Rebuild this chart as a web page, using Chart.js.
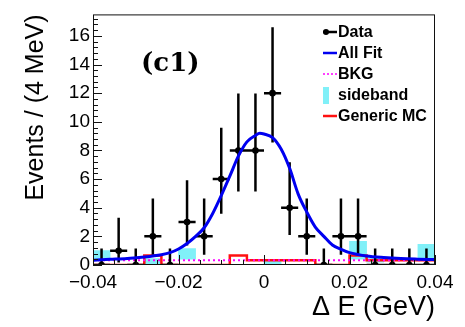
<!DOCTYPE html>
<html>
<head>
<meta charset="utf-8">
<script src="https://cdn.jsdelivr.net/npm/chart.js@4.4.0/dist/chart.umd.min.js"></script>
<style>
  html, body { margin: 0; padding: 0; background: #fff; }
  #wrap { width: 465px; height: 327px; }
</style>
</head>
<body>
<div id="wrap"><canvas id="c" width="465" height="327"></canvas></div>
<script>
// ── Data ───────────────────────────────────────────────────────
const BIN_WIDTH = 0.004;
const BIN_EDGES = [-0.040, -0.036, -0.032, -0.028, -0.024, -0.020, -0.016, -0.012, -0.008, -0.004,
                   0.000, 0.004, 0.008, 0.012, 0.016, 0.020, 0.024, 0.028, 0.032, 0.036, 0.040];
const BIN_CENTERS = [-0.038, -0.034, -0.030, -0.026, -0.022, -0.018, -0.014, -0.010, -0.006, -0.002,
                     0.002, 0.006, 0.010, 0.014, 0.018, 0.022, 0.026, 0.030, 0.034, 0.038];

const DATA_COUNTS   = [0, 1, 0, 2, 0, 3, 2, 6, 8, 8, 12, 4, 2, 0, 2, 2, 0, 0, 0, 0];
const DATA_ERR_LOW  = [0, 0.17, 0, 0.71, 0, 1.37, 0.71, 3.58, 5.14, 5.14, 8.56, 2.09, 0.71, 0, 0.71, 0.71, 0, 0, 0, 0];
const DATA_ERR_HIGH = [1.15, 3.3, 1.15, 4.64, 1.15, 5.92, 4.64, 9.58, 11.98, 11.98, 16.61, 7.17, 4.64, 1.15, 4.64, 4.64, 1.15, 1.15, 1.15, 1.15];

const FIT_X = [-0.040, -0.036, -0.032, -0.028, -0.024, -0.022, -0.020, -0.018, -0.016, -0.014, -0.012, -0.010,
               -0.008, -0.006, -0.004, -0.002, -0.001, 0.000, 0.002, 0.004, 0.006, 0.008, 0.010, 0.012,
               0.014, 0.016, 0.018, 0.020, 0.024, 0.028, 0.032, 0.036, 0.040];
const FIT_Y = [0.34, 0.40, 0.46, 0.56, 0.72, 0.86, 1.12, 1.5, 2.0, 2.6, 3.6, 4.85,
               6.2, 7.6, 8.6, 9.05, 9.2, 9.15, 8.9, 8.1, 6.75, 4.95, 3.7, 2.65,
               2.0, 1.4, 1.1, 0.86, 0.63, 0.52, 0.45, 0.41, 0.38];

const BKG_X = [-0.040, 0.040];
const BKG_Y = [0.33, 0.33];

const GENERIC_MC = [0, 0, 0, 0.67, 0, 0, 0, 0, 0.67, 0.33, 0.33, 0.33, 0.33, 0, 0, 0.67, 0.33, 0.33, 0.33, 0.33];

const SIDEBAND_LOW  = [0.35, null, null, 0.1, null, 0.4, null, null, null, null, 0.05, null, null, null, null, 0.4, 0.2, null, null, 0.35];
const SIDEBAND_HIGH = [1.0, null, null, 0.45, null, 1.15, null, null, null, null, 0.33, null, null, null, null, 1.65, 0.5, null, null, 1.45];

const X_TICKS = [-0.04, -0.02, 0, 0.02, 0.04];
const Y_TICKS = [0, 2, 4, 6, 8, 10, 12, 14, 16];
const LEGEND_LABELS = ['Data', 'All Fit', 'BKG', 'sideband', 'Generic MC'];

// ── Colours ───────────────────────────────────────────────────
const BLUE = '#0000f0';
const RED = '#ff1010';
const MAGENTA = '#ff00ff';
const CYAN = '#80f0f8';
const BLACK = '#000';
const SANS = "'Liberation Sans', Arial, sans-serif";

Chart.defaults.font.family = SANS;
Chart.defaults.color = BLACK;

// build point lists for the library
const dataPoints = BIN_CENTERS.map((c, i) => ({ x: c, y: DATA_COUNTS[i] }));
const errVertical = [];
const errHorizontal = [];
BIN_CENTERS.forEach((c, i) => {
  errVertical.push({ x: c, y: DATA_ERR_LOW[i] }, { x: c, y: DATA_ERR_HIGH[i] }, { x: c, y: null });
  errHorizontal.push({ x: c - BIN_WIDTH / 2, y: DATA_COUNTS[i] }, { x: c + BIN_WIDTH / 2, y: DATA_COUNTS[i] },
                     { x: c + BIN_WIDTH / 2, y: null });
});
const fitPoints = FIT_X.map((x, i) => ({ x, y: FIT_Y[i] }));
const bkgPoints = BKG_X.map((x, i) => ({ x, y: BKG_Y[i] }));
const mcPoints = BIN_EDGES.map((x, i) => ({ x, y: GENERIC_MC[Math.min(i, GENERIC_MC.length - 1)] }));
const sidebandBars = BIN_CENTERS.map((c, i) => ({
  x: c,
  y: SIDEBAND_LOW[i] === null ? null : [SIDEBAND_LOW[i], SIDEBAND_HIGH[i]],
}));

// ── Frame, inside ticks, legend and panel label ───────────────
const rootStyle = {
  id: 'rootStyle',
  afterDraw(chart) {
    const { ctx, chartArea: a, scales: { x, y } } = chart;
    ctx.save();
    ctx.strokeStyle = '#111';
    ctx.lineWidth = 1;
    ctx.strokeRect(a.left + 0.5, a.top + 0.5, a.right - a.left - 1, a.bottom - a.top - 1);

    // y ticks: major every 2, minor every 0.4
    ctx.beginPath();
    for (let k = 0; k * 0.4 <= y.max + 1e-9; k++) {
      const py = Math.round(y.getPixelForValue(k * 0.4)) + 0.5;
      const len = k % 5 === 0 ? 9 : 5;
      ctx.moveTo(a.left, py);
      ctx.lineTo(a.left + len, py);
    }
    // x ticks: major every 0.02, minor every 0.005
    for (let k = 0; k <= 16; k++) {
      const px = Math.round(x.getPixelForValue(-0.04 + k * 0.005)) + 0.5;
      const len = k % 4 === 0 ? 10 : 5;
      ctx.moveTo(px, a.bottom);
      ctx.lineTo(px, a.bottom - len);
    }
    ctx.stroke();

    // legend
    const lx = 323, lx2 = 337, tx = 338;
    const rows = [32, 53, 74, 95, 116];
    ctx.lineWidth = 2.5;
    // Data
    ctx.strokeStyle = BLACK;
    ctx.beginPath(); ctx.moveTo(lx, rows[0]); ctx.lineTo(lx2, rows[0]); ctx.stroke();
    ctx.fillStyle = BLACK;
    ctx.beginPath(); ctx.arc(lx + 3, rows[0], 3, 0, Math.PI * 2); ctx.fill();
    // All Fit
    ctx.strokeStyle = BLUE;
    ctx.beginPath(); ctx.moveTo(lx, rows[1]); ctx.lineTo(lx2, rows[1]); ctx.stroke();
    // BKG
    ctx.strokeStyle = MAGENTA;
    ctx.lineWidth = 1.5;
    ctx.setLineDash([2, 2]);
    ctx.beginPath(); ctx.moveTo(lx, rows[2]); ctx.lineTo(lx2, rows[2]); ctx.stroke();
    ctx.setLineDash([]);
    // sideband
    ctx.fillStyle = CYAN;
    ctx.fillRect(lx, rows[3] - 8, 6, 17);
    // Generic MC
    ctx.strokeStyle = RED;
    ctx.lineWidth = 2.5;
    ctx.beginPath(); ctx.moveTo(lx, rows[4]); ctx.lineTo(lx2, rows[4]); ctx.stroke();

    ctx.fillStyle = BLACK;
    ctx.font = `bold 16px ${SANS}`;
    ctx.textAlign = 'left';
    ctx.textBaseline = 'middle';
    LEGEND_LABELS.forEach((t, i) => ctx.fillText(t, tx, rows[i] + 1));

    // panel label
    ctx.font = "bold 26px 'DejaVu Serif', serif";
    ctx.fillText('(c1)', 141, 64);
    ctx.restore();
  },
};

new Chart(document.getElementById('c'), {
  type: 'line',
  data: {
    datasets: [
      {
        type: 'bar', label: 'sideband', data: sidebandBars,
        backgroundColor: CYAN, borderWidth: 0,
        barPercentage: 1, categoryPercentage: 1, grouped: false, order: 6,
      },
      {
        label: 'Generic MC', data: mcPoints, stepped: true,
        borderColor: RED, borderWidth: 2.5, pointRadius: 0, fill: false, order: 5,
      },
      {
        label: 'BKG', data: bkgPoints,
        borderColor: MAGENTA, borderWidth: 2, borderDash: [2, 3], pointRadius: 0, fill: false, order: 4,
      },
      {
        label: 'err-y', data: errVertical,
        borderColor: BLACK, borderWidth: 2.5, pointRadius: 0, spanGaps: false, order: 3,
      },
      {
        label: 'err-x', data: errHorizontal,
        borderColor: BLACK, borderWidth: 2.5, pointRadius: 0, spanGaps: false, order: 3,
      },
      {
        label: 'Data', data: dataPoints, showLine: false,
        pointRadius: 3.3, pointBackgroundColor: BLACK, pointBorderWidth: 0, order: 2,
      },
      {
        label: 'All Fit', data: fitPoints,
        borderColor: BLUE, borderWidth: 3, pointRadius: 0, cubicInterpolationMode: 'monotone', fill: false, order: 1,
      },
    ],
  },
  options: {
    responsive: false,
    animation: false,
    devicePixelRatio: 1,
    layout: { padding: { top: 5, right: 30, left: 0, bottom: 0 } },
    plugins: { legend: { display: false }, tooltip: { enabled: false } },
    scales: {
      x: {
        type: 'linear', min: -0.04, max: 0.04, offset: false,
        grid: { display: false, drawTicks: false },
        border: { display: false },
        afterBuildTicks: (s) => { s.ticks = X_TICKS.map((v) => ({ value: v })); },
        afterFit: (s) => { s.height = 62; },
        ticks: {
          padding: 6,
          font: { size: 19 },
          color: BLACK,
          maxRotation: 0,
          callback: (v) => (v === 0 ? '0' : (v < 0 ? '\u2212' : '') + Math.abs(v).toFixed(2)),
        },
        title: {
          display: true, text: '\u0394 E (GeV)', align: 'end', color: BLACK,
          font: { size: 27 }, padding: { top: 0, bottom: 3 },
        },
      },
      y: {
        type: 'linear', min: 0, max: 17.5,
        grid: { display: false, drawTicks: false },
        border: { display: false },
        afterBuildTicks: (s) => { s.ticks = Y_TICKS.map((v) => ({ value: v })); },
        afterFit: (s) => { s.width = 93; },
        ticks: { padding: 3, font: { size: 19 }, color: BLACK },
        title: {
          display: true, text: 'Events / (4 MeV)', align: 'end', color: BLACK,
          font: { size: 25 }, padding: { top: 21, bottom: 0 },
        },
      },
    },
  },
  plugins: [rootStyle],
});
</script>
</body>
</html>
